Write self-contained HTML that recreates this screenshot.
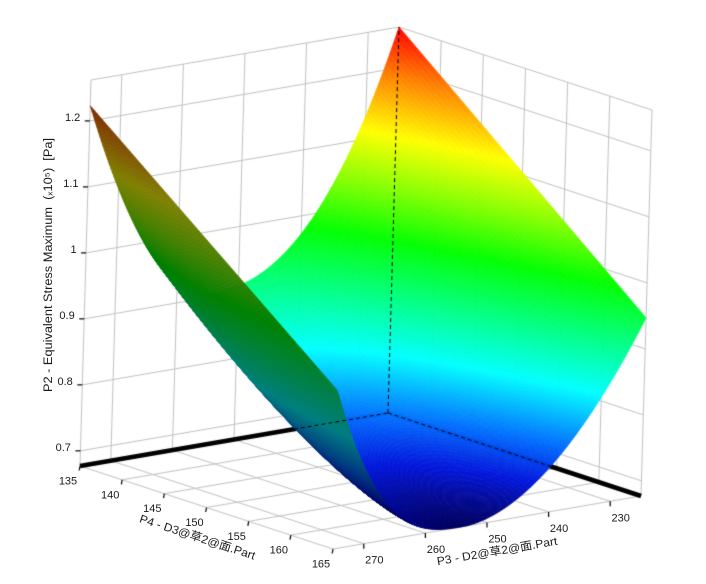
<!DOCTYPE html>
<html><head><meta charset="utf-8">
<style>
html,body{margin:0;padding:0;background:#fff;}
#wrap{position:relative;width:706px;height:584px;overflow:hidden;background:#fff;}
canvas,svg{position:absolute;left:0;top:0;}
text{font-family:"Liberation Sans","DejaVu Sans","Noto Sans CJK SC",sans-serif;fill:#1a1a1a;}
</style></head><body>
<div id="wrap">
<canvas id="c" width="706" height="584"></canvas>
<svg width="706" height="584" viewBox="0 0 706 584">
  <g font-size="11" text-anchor="end">
    <text x="70.9" y="451">0.7</text>
    <text x="72.8" y="385">0.8</text>
    <text x="74.7" y="319">0.9</text>
    <text x="76.6" y="253">1</text>
    <text x="78.5" y="187">1.1</text>
    <text x="80.3" y="121">1.2</text>
  </g>
  <g font-size="11" text-anchor="middle">
    <text x="68" y="484.5">135</text>
    <text x="110.2" y="498.3">140</text>
    <text x="152.3" y="512.2">145</text>
    <text x="194.5" y="526">150</text>
    <text x="236.7" y="539.8">155</text>
    <text x="278.8" y="553.7">160</text>
    <text x="321" y="567.5">165</text>
    <text x="374.3" y="563.7">270</text>
    <text x="435.9" y="553.1">260</text>
    <text x="497.5" y="542.5">250</text>
    <text x="559.1" y="531.9">240</text>
    <text x="620.7" y="521.3">230</text>
  </g>
  <text transform="translate(52,265) rotate(-90)" text-anchor="middle" font-size="11.5" textLength="254" lengthAdjust="spacingAndGlyphs" style="white-space:pre">P2 - Equivalent Stress Maximum  (ₓ10⁵)  [Pa]</text>
  <text transform="translate(197.5,537) rotate(18.16)" x="0" y="4" text-anchor="middle" font-size="11.5" textLength="121" lengthAdjust="spacingAndGlyphs">P4 - D3@草2@面.Part</text>
  <text transform="translate(497,551) rotate(-9.73)" x="0" y="4" text-anchor="middle" font-size="11.5" textLength="122" lengthAdjust="spacingAndGlyphs">P3 - D2@草2@面.Part</text>
</svg>
</div>
<script>
(function(){
const cv=document.getElementById('c');const g=cv.getContext('2d');
g.fillStyle='#fff';g.fillRect(0,0,706,584);
function P(t,s,h){return [80+308*t+253*s+11*h, 466-53*t+83*s-386*h];}
const Z0=0.677,ZR=0.585;
function H(z){return (z-Z0)/ZR;}
function line(a,b){g.beginPath();g.moveTo(a[0],a[1]);g.lineTo(b[0],b[1]);g.stroke();}
const zt=[0.7,0.8,0.9,1.0,1.1,1.2];
const t3=[0.1,0.3,0.5,0.7,0.9];
const s4=[1/6,2/6,3/6,4/6,5/6];
g.strokeStyle='#c2c2c2';g.lineWidth=1;
[0].concat(t3).forEach(t=>line(P(t,0,0),P(t,0,1)));
zt.forEach(z=>line(P(0,0,H(z)),P(1,0,H(z))));
line(P(0,0,1),P(1,0,1));
s4.concat([1]).forEach(s=>line(P(1,s,0),P(1,s,1)));
zt.forEach(z=>line(P(1,0,H(z)),P(1,1,H(z))));
line(P(1,0,1),P(1,1,1));
t3.forEach(t=>line(P(t,0,0),P(t,1,0)));
s4.forEach(s=>line(P(0,s,0),P(1,s,0)));
line(P(0,0,0),P(0,1,0));line(P(0,1,0),P(1,1,0));
g.strokeStyle='#000';g.lineWidth=4.5;
line(P(0,0,0),P(1,0,0));line(P(1,0,0),P(1,1,0));
function zf(t,s){
  const x=1-2*t;
  const m=0.677+0.228*Math.pow(1-s,1.5);
  const x0=0.2-0.04*s;
  if(x<x0){const zl=1.262-0.315*s,p=2.4-0.5*s;return m+(zl-m)*Math.pow((x0-x)/(1+x0),p);}
  const zr=1.223-0.306*s,p=1.9+0.9*s;return m+(zr-m)*Math.pow(Math.max(0,(x-x0)/(1-x0)),p);
}
const stops=[[0,0,0,100],[0.08,0,20,220],[0.16,0,110,255],[0.28,0,255,255],[0.40,0,255,128],[0.52,0,255,0],[0.63,130,255,0],[0.75,255,255,0],[0.885,255,128,0],[1,255,0,0]];
function cmap(v){v=Math.max(0,Math.min(1,v));
  for(let i=1;i<stops.length;i++){if(v<=stops[i][0]){const a=stops[i-1],b=stops[i];const f=(v-a[0])/(b[0]-a[0]);
    return [a[1]+(b[1]-a[1])*f,a[2]+(b[2]-a[2])*f,a[3]+(b[3]-a[3])*f];}}
  return [255,0,0];}
const N=180,M=150;const V=[];
for(let i=0;i<=N;i++){const t=i/N;const row=[];for(let j=0;j<=M;j++){const s=j/M;const h=H(zf(t,s));const p=P(t,s,h);row.push([p[0],p[1],h]);}V.push(row);}
const Q=[];
for(let i=0;i<N;i++)for(let j=0;j<M;j++){
  const a=V[i][j],b=V[i+1][j],c=V[i+1][j+1],d=V[i][j+1];
  const tc=(i+0.5)/N,sc=(j+0.5)/M,hc=(a[2]+b[2]+c[2]+d[2])/4;
  const cr=(c[0]-a[0])*(d[1]-b[1])-(c[1]-a[1])*(d[0]-b[0]);
  Q.push([-2.53*tc+3.04*sc+hc,i,j,cr,hc]);
}
Q.sort((u,v)=>u[0]-v[0]);
g.lineWidth=0.6;
for(const q of Q){
  const i=q[1],j=q[2],cr=q[3],hc=q[4];
  const a=V[i][j],b=V[i+1][j],c=V[i+1][j+1],d=V[i][j+1];
  const col=cmap(hc);const k=cr>0?1:0.5;
  const st='rgb('+Math.round(col[0]*k)+','+Math.round(col[1]*k)+','+Math.round(col[2]*k)+')';
  g.fillStyle=st;g.strokeStyle=st;
  g.beginPath();g.moveTo(a[0],a[1]);g.lineTo(b[0],b[1]);g.lineTo(c[0],c[1]);g.lineTo(d[0],d[1]);g.closePath();
  g.fill();g.stroke();
}
g.strokeStyle='#000';g.lineWidth=1;g.setLineDash([4,3]);
line(P(1,0,0),P(1,0,1));
line(P(0,0,0),P(1,0,0));
line(P(1,0,0),P(1,1,0));
g.setLineDash([]);
g.lineWidth=1.2;
zt.forEach(z=>{const p=P(0,0,H(z));line([p[0]-5,p[1]],p);});
for(let k=0;k<=6;k++){const p=P(0,k/6,0);line(p,[p[0]-0.8,p[1]+4.5]);}
t3.forEach(t=>{const p=P(t,1,0);line(p,[p[0],p[1]+5]);});
})();
</script>
</body></html>
